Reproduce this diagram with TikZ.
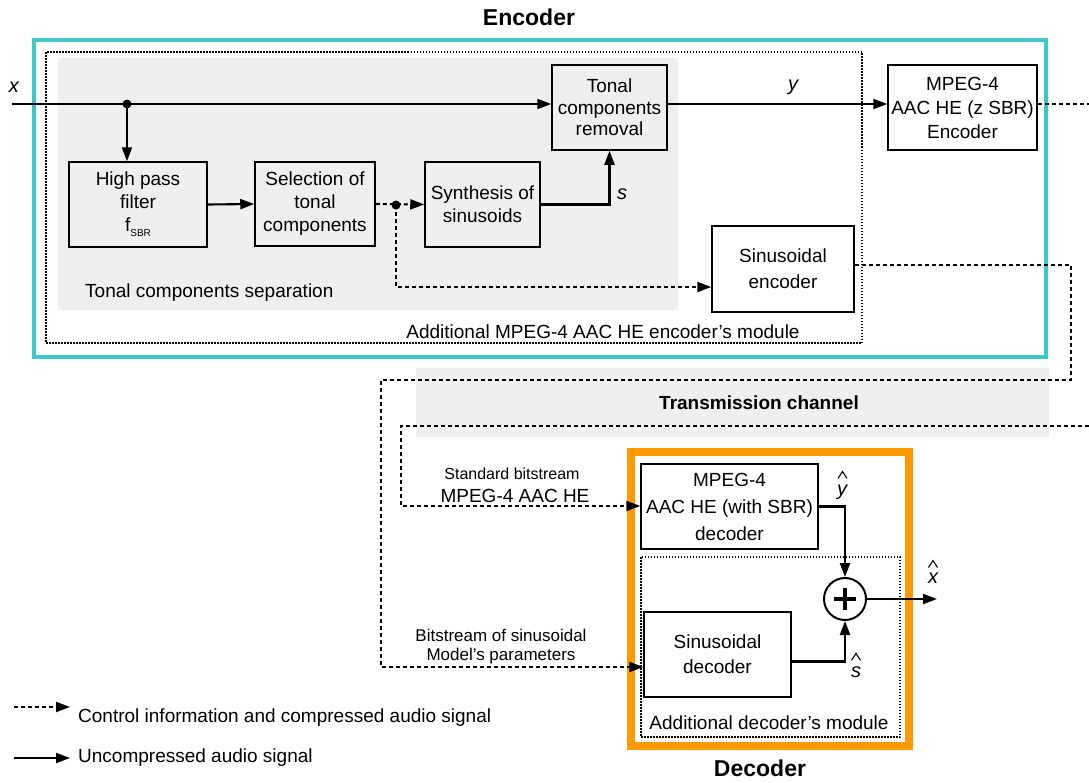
\documentclass[tikz,border=0pt]{standalone}
\usepackage{fontspec}
\setmainfont{Liberation Sans}
\usetikzlibrary{arrows.meta,positioning}
\definecolor{enccyan}{RGB}{60,200,200}
\definecolor{decorange}{RGB}{255,153,0}
\definecolor{bggray}{RGB}{239,239,239}
\tikzset{
  blk/.style={draw, line width=1.5pt, inner sep=0pt, align=center, font=\fontsize{19}{23}\selectfont},
  sig/.style={line width=2.1pt, -{Triangle[length=14pt,width=10pt]}},
  ctl/.style={line width=2.1pt, dash pattern=on 4pt off 3pt, -{Triangle[length=14pt,width=10pt]}},
  ctlline/.style={line width=2.1pt, dash pattern=on 4pt off 3pt},
  modbox/.style={line width=1.1pt, dash pattern=on 1.5pt off 1.5pt},
  txt/.style={font=\fontsize{19}{23}\selectfont, inner sep=0pt},
  small/.style={font=\fontsize{16}{19}\selectfont, inner sep=0pt},
  ttl/.style={font=\fontsize{23}{26}\selectfont\bfseries, inner sep=0pt},
  lbl/.style={font=\fontsize{20}{22}\selectfont\itshape, inner sep=0pt},
  caret/.style={line width=1.1pt},
}
\begin{document}
\begin{tikzpicture}[x=1pt,y=-1pt]
  \useasboundingbox (0,0) rectangle (1089,782);

  % encoder
  \node[ttl] (enctitle) at (529,17) {Encoder};
  \draw[enccyan, line width=4.5pt] (34,40) rectangle (1046,357);
  \draw[modbox] (46,52) rectangle (862,343);
  \fill[bggray] (58,58) rectangle (678,310);

  \node[blk, minimum width=138pt, minimum height=85pt] (hpf) at (138,204.5) {High pass\\filter\\f\raisebox{-5pt}{\fontsize{10}{12}\selectfont SBR}};
  \node[blk, minimum width=120pt, minimum height=84pt] (sel) at (315,204) {Selection of\\tonal\\components};
  \node[blk, minimum width=115pt, minimum height=85pt] (syn) at (482.5,204.5) {Synthesis of\\sinusoids};
  \node[blk, minimum width=115pt, minimum height=85pt, font=\fontsize{19}{21.5}\selectfont] (rem) at (609.5,107.5) {Tonal\\components\\removal};
  \node[blk, minimum width=149pt, minimum height=85pt, font=\fontsize{19}{24}\selectfont] (mpe) at (962.5,107.5) {MPEG-4\\AAC HE (z SBR)\\Encoder};
  \node[blk, minimum width=142pt, minimum height=86pt, font=\fontsize{19}{26}\selectfont] (sen) at (783,269) {Sinusoidal\\encoder};

  \node[txt, anchor=west] (tcs) at (85,293) {Tonal components separation};
  \node[txt] (addenc) at (603,332) {Additional MPEG-4 AAC HE encoder's module};

  \coordinate (xin) at (12,104);
  \coordinate (jx) at (127,104);
  \coordinate (jd) at (396,205);
  \coordinate (jd2) at (396,287);
  \coordinate (encout) at (1089,104);
  \node[lbl] (xlbl) at (14,87) {x};
  \node[lbl] (ylbl) at (793,87) {y};
  \node[lbl] (slbl) at (622,194) {s};

  \draw[sig] (xin) -- (xin -| rem.west);
  \fill (jx) circle (4.5pt);
  \draw[sig] (jx) -- (jx |- hpf.north);
  \draw[sig] (hpf.east) -- (sel.west);
  \draw[ctl] (sel.east) -- (syn.west);
  \fill (jd) circle (4.5pt);
  \draw[ctl] (jd) -- (jd2) -- (jd2 -| sen.west);
  \draw[sig] (syn.east) -| (rem.south);
  \draw[sig] (rem.east |- xin) -- (mpe.west |- xin);
  \draw[ctlline] (mpe.east |- xin) -- (encout);

  % transmission channel
  \fill[bggray] (416,368) rectangle (1049,437);
  \node[txt, font=\fontsize{19}{23}\selectfont\bfseries] (chan) at (759,403) {Transmission channel};

  % decoder
  \node[ttl] (dectitle) at (760,768) {Decoder};
  \draw[decorange, line width=8pt] (631,452) rectangle (909,746);
  \draw[modbox] (641,557) rectangle (900,737);
  \node[blk, minimum width=177pt, minimum height=85pt, font=\fontsize{19}{27}\selectfont] (mdec) at (729.5,506.5) {MPEG-4\\AAC HE (with SBR)\\decoder};
  \node[blk, minimum width=147pt, minimum height=85pt, font=\fontsize{19}{25}\selectfont] (sdec) at (717.5,654.5) {Sinusoidal\\decoder};
  \node[circle, draw, line width=2pt, minimum size=42pt, inner sep=0pt] (sum) at (845,599) {};
  \draw[line width=3.6pt] ([xshift=-11pt]sum.center) -- ([xshift=11pt]sum.center);
  \draw[line width=3.6pt] ([yshift=-11pt]sum.center) -- ([yshift=11pt]sum.center);
  \node[txt] (adddec) at (769,723) {Additional decoder's module};

  \coordinate (xout) at (937,599);
  \node[lbl] (yhat) at (842,492) {y};
  \draw[caret] ([shift={(-4,-6)}]yhat.north) -- ++(4.5,-7) -- ++(4.5,7);
  \node[lbl] (xhat) at (933,578) {x};
  \draw[caret] ([shift={(-4.5,-5)}]xhat.north) -- ++(4.5,-7) -- ++(4.5,7);
  \node[lbl] (shat) at (856,672) {s};
  \draw[caret] ([shift={(-4.5,-6)}]shat.north) -- ++(4.5,-7) -- ++(4.5,7);

  \draw[sig] (mdec.east) -| (sum.north);
  \draw[sig] ([yshift=-7pt]sdec.east) -| (sum.south);
  \draw[sig] (sum.east) -- (xout);

  % links over the channel
  \coordinate (c1) at (1071,265);
  \coordinate (c2) at (1071,380);
  \coordinate (c3) at (381,380);
  \coordinate (c4) at (381,667);
  \draw[ctl] (sen.east |- c1) -- (c1) -- (c2) -- (c3) -- (c4) -- (c4 -| sdec.west);
  \coordinate (d1) at (1089,426);
  \coordinate (d2) at (401,426);
  \coordinate (d3) at (401,506);
  \draw[ctl] (d1) -- (d2) -- (d3) -- (d3 -| mdec.west);

  \node[small] (std1) at (512,474) {Standard bitstream};
  \node[txt] (std2) at (515,496) {MPEG-4 AAC HE};
  \node[small, font=\fontsize{17}{20}\selectfont] (bs1) at (501,635) {Bitstream of sinusoidal};
  \node[small, font=\fontsize{17}{20}\selectfont] (bs2) at (501,656) {Model's parameters};

  % legend
  \coordinate (lg1a) at (14,707);
  \coordinate (lg1b) at (70,707);
  \coordinate (lg2a) at (14,758);
  \coordinate (lg2b) at (70,758);
  \draw[ctl] (lg1a) -- (lg1b);
  \draw[sig] (lg2a) -- (lg2b);
  \node[txt, anchor=west] (lgt1) at (78,718) {Control information and compressed audio signal};
  \node[txt, anchor=west] (lgt2) at (78,758) {Uncompressed audio signal};
\end{tikzpicture}
\end{document}
